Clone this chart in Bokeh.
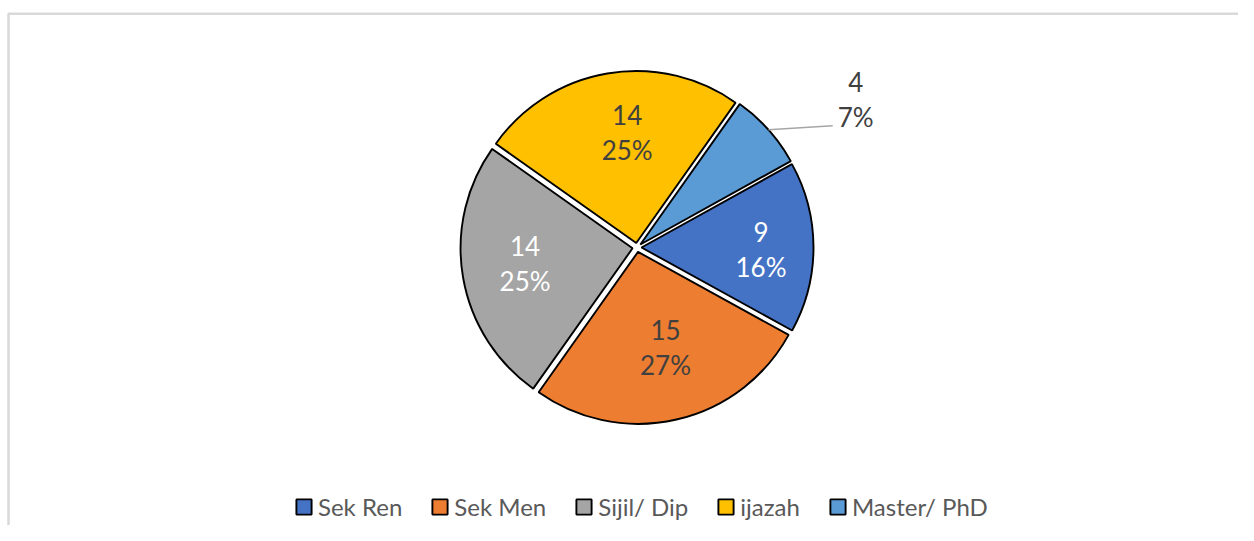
import math
from bokeh.plotting import figure
from bokeh.models import ColumnDataSource, Range1d, Legend, LegendItem
from bokeh.core.properties import value
from bokeh.embed import file_html
from bokeh.resources import INLINE

# ---- data ----
categories = ["Sek Ren", "Sek Men", "Sijil/ Dip", "ijazah", "Master/ PhD"]
counts = [9, 15, 14, 14, 4]

# ---- style ----
colors = ["#4472C4", "#ED7D31", "#A5A5A5", "#FFC000", "#5B9BD5"]
label_colors = ["#FFFFFF", "#404040", "#FFFFFF", "#404040", "#404040"]
label_radius = [124, 104, 113, 115, 264]
label_turn = [1.0, -3.0, 1.8, 4.8, 7.8]

W, H = 1238, 525
CX, CY = 636.5, 278.0
R = 172
EXPLODE = 4.5
FIRST_ANGLE = 61.0
FONT = "Lato"

total = sum(counts)
xs, ys, starts, ends, mids = [], [], [], [], []
lx, ly, cnt_txt, pct_txt = [], [], [], []
cum = 0
for i, c in enumerate(counts):
    a0 = FIRST_ANGLE + 360.0 * cum / total
    a1 = a0 + 360.0 * c / total
    m = math.radians((a0 + a1) / 2)
    cum += c
    xs.append(CX + EXPLODE * math.sin(m))
    ys.append(CY + EXPLODE * math.cos(m))
    starts.append(math.pi / 2 - math.radians(a0))
    ends.append(math.pi / 2 - math.radians(a1))
    mids.append(m)
    t = m + math.radians(label_turn[i])
    lx.append(CX + label_radius[i] * math.sin(t))
    ly.append(CY + label_radius[i] * math.cos(t))
    cnt_txt.append(str(c))
    pct_txt.append(f"{round(100 * c / total)}%")

src = ColumnDataSource(dict(x=xs, y=ys, start=starts, end=ends, color=colors, cat=categories))
lsrc = ColumnDataSource(dict(x=lx, y=ly, cnt=cnt_txt, pct=pct_txt, tc=label_colors))

p = figure(width=W, height=H, x_range=Range1d(0, W), y_range=Range1d(0, H),
           output_backend="svg", toolbar_location=None, min_border=0,
           x_axis_location=None, y_axis_location=None, outline_line_color=None,
           background_fill_color="white", border_fill_color="white")
p.grid.visible = False

# chart-area border (top and left edges visible)
p.line(x=[8, 8, W], y=[0, H - 13.3, H - 13.3], line_color="#d9d9d9", line_width=2.5)

wedges = p.wedge(x="x", y="y", radius=R, start_angle="start", end_angle="end",
                 direction="clock", fill_color="color", line_color="black",
                 line_width=1.9, source=src)

# leader line for the outside label (last slice)
k = len(counts) - 1
sx = xs[k] + R * math.sin(mids[k])
sy = ys[k] + R * math.cos(mids[k])
p.line(x=[sx, lx[k] - 23], y=[sy, ly[k] - 26], line_color="#a6a6a6", line_width=1.5)

p.text(x="x", y="y", text="cnt", source=lsrc, text_color="tc", y_offset=-17.5,
       text_font=value(FONT), text_font_size=value("26px"),
       text_align="center", text_baseline="middle")
p.text(x="x", y="y", text="pct", source=lsrc, text_color="tc", y_offset=17.5,
       text_font=value(FONT), text_font_size=value("26px"),
       text_align="center", text_baseline="middle")

items = [LegendItem(label=cat, renderers=[wedges], index=i) for i, cat in enumerate(categories)]
legend = Legend(items=items, orientation="horizontal", location=(294, 4),
                glyph_width=19, glyph_height=19, label_standoff=5, spacing=28,
                padding=0, margin=0, border_line_color=None, background_fill_alpha=0,
                label_text_font=FONT, label_text_font_size="24px",
                label_text_color="#595959", label_height=20)
p.add_layout(legend)

open("out.html", "w").write(file_html(p, INLINE))
